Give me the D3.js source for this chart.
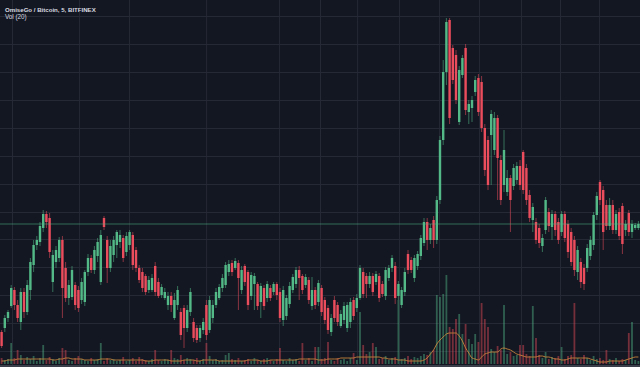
<!DOCTYPE html>
<html><head><meta charset="utf-8">
<script src="https://cdn.jsdelivr.net/npm/d3@7"></script>
<style>html,body{margin:0;padding:0;background:#131722;overflow:hidden}</style>
</head><body><svg id="c" width="640" height="367"></svg>
<script>
const title = "OmiseGo / Bitcoin, 5, BITFINEX";
const volLabel = "Vol (20)";

const openP = [68,72,82,94,110,95,78,108,88,110,
135,155,158,172,186,182,118,138,142,160,
132,102,103,115,110,100,98,128,142,130,
144,118,182,160,132,145,155,158,162,148,
155,165,150,132,128,124,110,110,134,118,
105,102,95,104,82,95,88,92,72,88,
78,72,62,70,95,70,82,95,102,112,
115,128,137,132,137,110,134,128,104,116,
116,98,112,102,112,108,116,108,80,84,
96,110,116,130,124,115,120,94,110,98,
112,100,92,68,100,95,74,80,72,78,
100,92,102,128,124,116,124,118,124,116,
104,122,132,134,104,95,108,146,140,122,
134,144,157,178,160,180,160,200,260,328,
380,352,345,278,325,352,288,292,308,322,
318,272,260,265,250,282,240,215,208,222,
214,220,234,248,232,205,180,178,172,154,
170,188,173,186,178,168,186,176,168,160,
128,138,132,132,144,155,185,218,210,195,
174,195,170,188,194,170,187,168,172,172];

const closeP = [54,82,88,112,95,82,108,88,115,138,
155,160,174,186,178,148,145,150,160,112,
102,115,130,95,92,118,128,142,130,150,
158,165,173,132,154,160,168,165,142,164,
168,135,132,120,112,108,120,122,108,104,
113,108,104,95,100,110,65,72,90,108,
62,60,72,78,65,100,95,108,113,122,
135,136,128,139,122,130,118,95,125,124,
94,114,94,116,102,116,105,82,110,102,
114,123,130,122,110,123,100,110,95,117,
88,80,70,82,82,78,86,94,95,98,
84,102,132,106,116,124,108,126,102,106,
130,132,142,102,116,110,128,130,130,142,
146,162,178,160,172,160,200,260,328,378,
282,320,300,330,342,290,296,300,320,288,
272,230,215,286,282,242,200,250,222,200,
232,234,215,210,200,182,193,160,157,162,
200,174,186,170,160,186,162,148,138,130,
150,118,116,152,160,185,204,200,168,174,
195,170,186,164,156,176,168,176,175,176];

const highP = [70,85,90,115,113,100,112,112,120,142,
160,164,178,190,189,187,150,154,163,164,
138,120,134,118,114,122,130,146,145,154,
162,170,184,164,160,164,170,170,165,168,
170,168,153,135,132,126,124,126,138,122,
116,112,108,108,107,114,92,95,95,112,
82,75,75,82,100,104,100,112,116,126,
138,140,140,142,140,134,136,130,128,127,
118,117,115,119,115,118,118,112,114,105,
118,126,133,134,126,126,123,123,113,120,
115,103,95,86,104,98,90,98,98,102,
103,106,135,132,127,128,127,129,127,119,
133,135,145,138,119,113,132,150,143,145,
149,165,182,182,176,184,204,264,340,382,
382,355,350,334,345,356,300,304,324,326,
324,276,264,290,288,285,245,270,230,225,
236,238,240,250,236,210,197,182,176,166,
203,192,190,189,182,189,189,180,172,164,
154,142,136,156,164,188,208,220,214,200,
202,200,190,192,197,180,190,180,177,179];

const lowP = [52,68,78,92,90,78,70,82,85,100,
128,150,154,168,172,142,108,132,138,82,
98,95,100,90,88,96,94,124,127,126,
138,115,170,117,128,138,142,152,138,144,
150,130,128,117,108,105,107,108,104,102,
102,100,90,88,80,90,60,52,68,84,
58,57,58,66,60,67,77,92,100,108,
112,124,124,130,90,106,114,90,100,90,
90,82,90,98,99,105,100,78,74,80,
92,107,112,100,106,112,96,90,91,94,
84,76,66,64,78,74,72,76,68,72,
80,88,100,102,102,112,104,115,98,103,
100,119,128,96,100,92,104,126,127,118,
130,140,154,150,156,152,156,196,255,315,
276,316,296,275,322,285,276,278,304,284,
268,224,210,215,245,200,195,208,204,168,
210,216,210,206,195,178,168,156,152,148,
166,168,160,164,156,164,158,142,134,124,
120,112,110,128,140,150,180,195,150,170,
170,166,166,160,146,164,164,162,170,170];

const volume = [6,4,5,21,6,14,9,4,7,5,
8,3,6,19,4,7,5,3,6,16,
14,4,3,6,8,5,4,3,6,4,
5,21,3,6,4,5,3,4,7,3,
4,6,3,7,5,4,3,5,14,4,
3,5,4,14,6,5,9,4,6,5,
4,6,3,5,21,8,4,5,3,4,
9,11,5,4,6,3,4,5,3,6,
4,3,5,6,4,3,5,16,4,3,
6,4,5,3,21,4,6,3,17,17,
5,6,22,4,3,6,4,5,3,6,
11,4,52,19,10,12,21,17,5,6,
8,4,6,7,64,5,6,8,5,7,
6,8,10,9,12,14,69,67,70,89,
37,35,45,50,30,40,25,20,30,22,
61,45,37,15,12,18,14,59,10,12,
8,9,19,19,10,8,58,26,9,6,
12,5,7,6,8,17,5,8,9,61,
6,5,9,6,4,8,5,6,4,14,
5,4,6,3,5,4,31,42,4,3];

const volMA20 = [3,3,4,4,4,5,5,5,5,5,
5,5,5,5,5,5,4,4,5,5,
6,6,5,5,5,5,4,4,4,4,
4,5,5,5,5,4,4,4,4,4,
4,4,4,4,4,3,3,3,4,4,
4,4,4,3,3,3,3,4,4,4,
4,3,3,4,4,4,4,4,3,3,
3,3,3,3,3,3,3,4,4,4,
4,3,3,3,4,4,4,4,4,4,
4,4,4,5,5,5,5,5,5,4,
4,4,5,5,5,5,6,6,6,6,
6,7,7,7,7,7,7,7,7,6,
6,5,5,5,4,4,4,3,3,3,
3,3,4,6,10,14,20,24,27,30,
31,31,31,28,23,16,11,6,5,4,
7,10,11,12,12,12,15,16,15,14,
12,10,9,8,7,7,7,7,8,8,
7,7,6,5,5,4,4,5,6,6,
6,6,6,6,5,4,3,2,2,2,
3,3,3,3,3,4,5,6,7,7];

const gridPrices = [49,77,105,133,161,188,216,244,272,300,328,356,384];
const gridTimes = [3.75,24.7,40.3,64.4,87.2,100,111.6,124.7,137.2,149.7,162.8,175,187.2];

const W = 640, H = 367;
const UP = "#53b987", DOWN = "#eb4d5c";
const n = openP.length;
const data = d3.range(n).map(i => ({i, o: openP[i], h: highP[i], l: lowP[i], c: closeP[i], v: volume[i], ma: volMA20[i]}));

const svg = d3.select("#c");
svg.append("rect").attr("width", W).attr("height", H).attr("fill", "#131722");

const x = d3.scaleBand().domain(d3.range(n)).range([0, W]).paddingInner(0.25).paddingOuter(0.125);
const xTime = d3.scaleLinear().domain([0, n]).range([0, W]);
const y = d3.scaleLinear().domain([49, 384]).range([351, 16]);
const yv = d3.scaleLinear().domain([0, 100]).range([364, 264]);

// grid
const gx = svg.append("g").attr("transform", `translate(0,${H})`)
  .call(d3.axisBottom(xTime).tickValues(gridTimes).tickSize(-H).tickFormat(""));
const gy = svg.append("g")
  .call(d3.axisLeft(y).tickValues(gridPrices).tickSize(-W).tickFormat(""));
[gx, gy].forEach(g => { g.select(".domain").remove(); g.selectAll("line").attr("stroke", "#252935").attr("stroke-width", 1); });

const cx = d => x(d.i) + x.bandwidth() / 2;

// volume
svg.append("g").selectAll("rect").data(data).join("rect")
  .attr("x", d => cx(d) - 0.9).attr("width", 1.8)
  .attr("y", d => yv(d.v)).attr("height", d => yv(0) - yv(d.v))
  .attr("fill", d => d.c >= d.o ? UP : DOWN).attr("opacity", 0.45);

// volume MA
svg.append("path").datum(data)
  .attr("d", d3.line().x(cx).y(d => yv(d.ma)).curve(d3.curveMonotoneX))
  .attr("fill", "none").attr("stroke", "#d0883c").attr("stroke-width", 1).attr("opacity", 0.85);

// candles
const cg = svg.append("g");
cg.selectAll("line").data(data).join("line")
  .attr("x1", cx).attr("x2", cx)
  .attr("y1", d => y(d.h)).attr("y2", d => y(d.l))
  .attr("stroke", d => d.c >= d.o ? UP : DOWN).attr("stroke-width", 1).attr("opacity", 0.55);
cg.selectAll("rect").data(data).join("rect")
  .attr("x", d => x(d.i)).attr("width", x.bandwidth())
  .attr("y", d => y(Math.max(d.o, d.c)))
  .attr("height", d => Math.max(1, Math.abs(y(d.o) - y(d.c))))
  .attr("fill", d => d.c >= d.o ? UP : DOWN);

// last price line
const last = data[n - 1];
svg.append("line").attr("x1", 0).attr("x2", W)
  .attr("y1", y(last.c)).attr("y2", y(last.c))
  .attr("stroke", UP).attr("stroke-width", 1.5).attr("opacity", 0.35);

// bottom border
svg.append("rect").attr("x", 0).attr("y", 365).attr("width", W).attr("height", 2).attr("fill", "#3b3f4a");

// labels
svg.append("text").attr("x", 5).attr("y", 11.5).text(title)
  .attr("font-family", "Liberation Sans, Arial, sans-serif").attr("font-size", 6.1).attr("font-weight", "bold").attr("fill", "#d9dbe0");
svg.append("text").attr("x", 5).attr("y", 18.8).text(volLabel)
  .attr("font-family", "Liberation Sans, Arial, sans-serif").attr("font-size", 6.3).attr("fill", "#d9dbe0");
</script>
</body></html>
